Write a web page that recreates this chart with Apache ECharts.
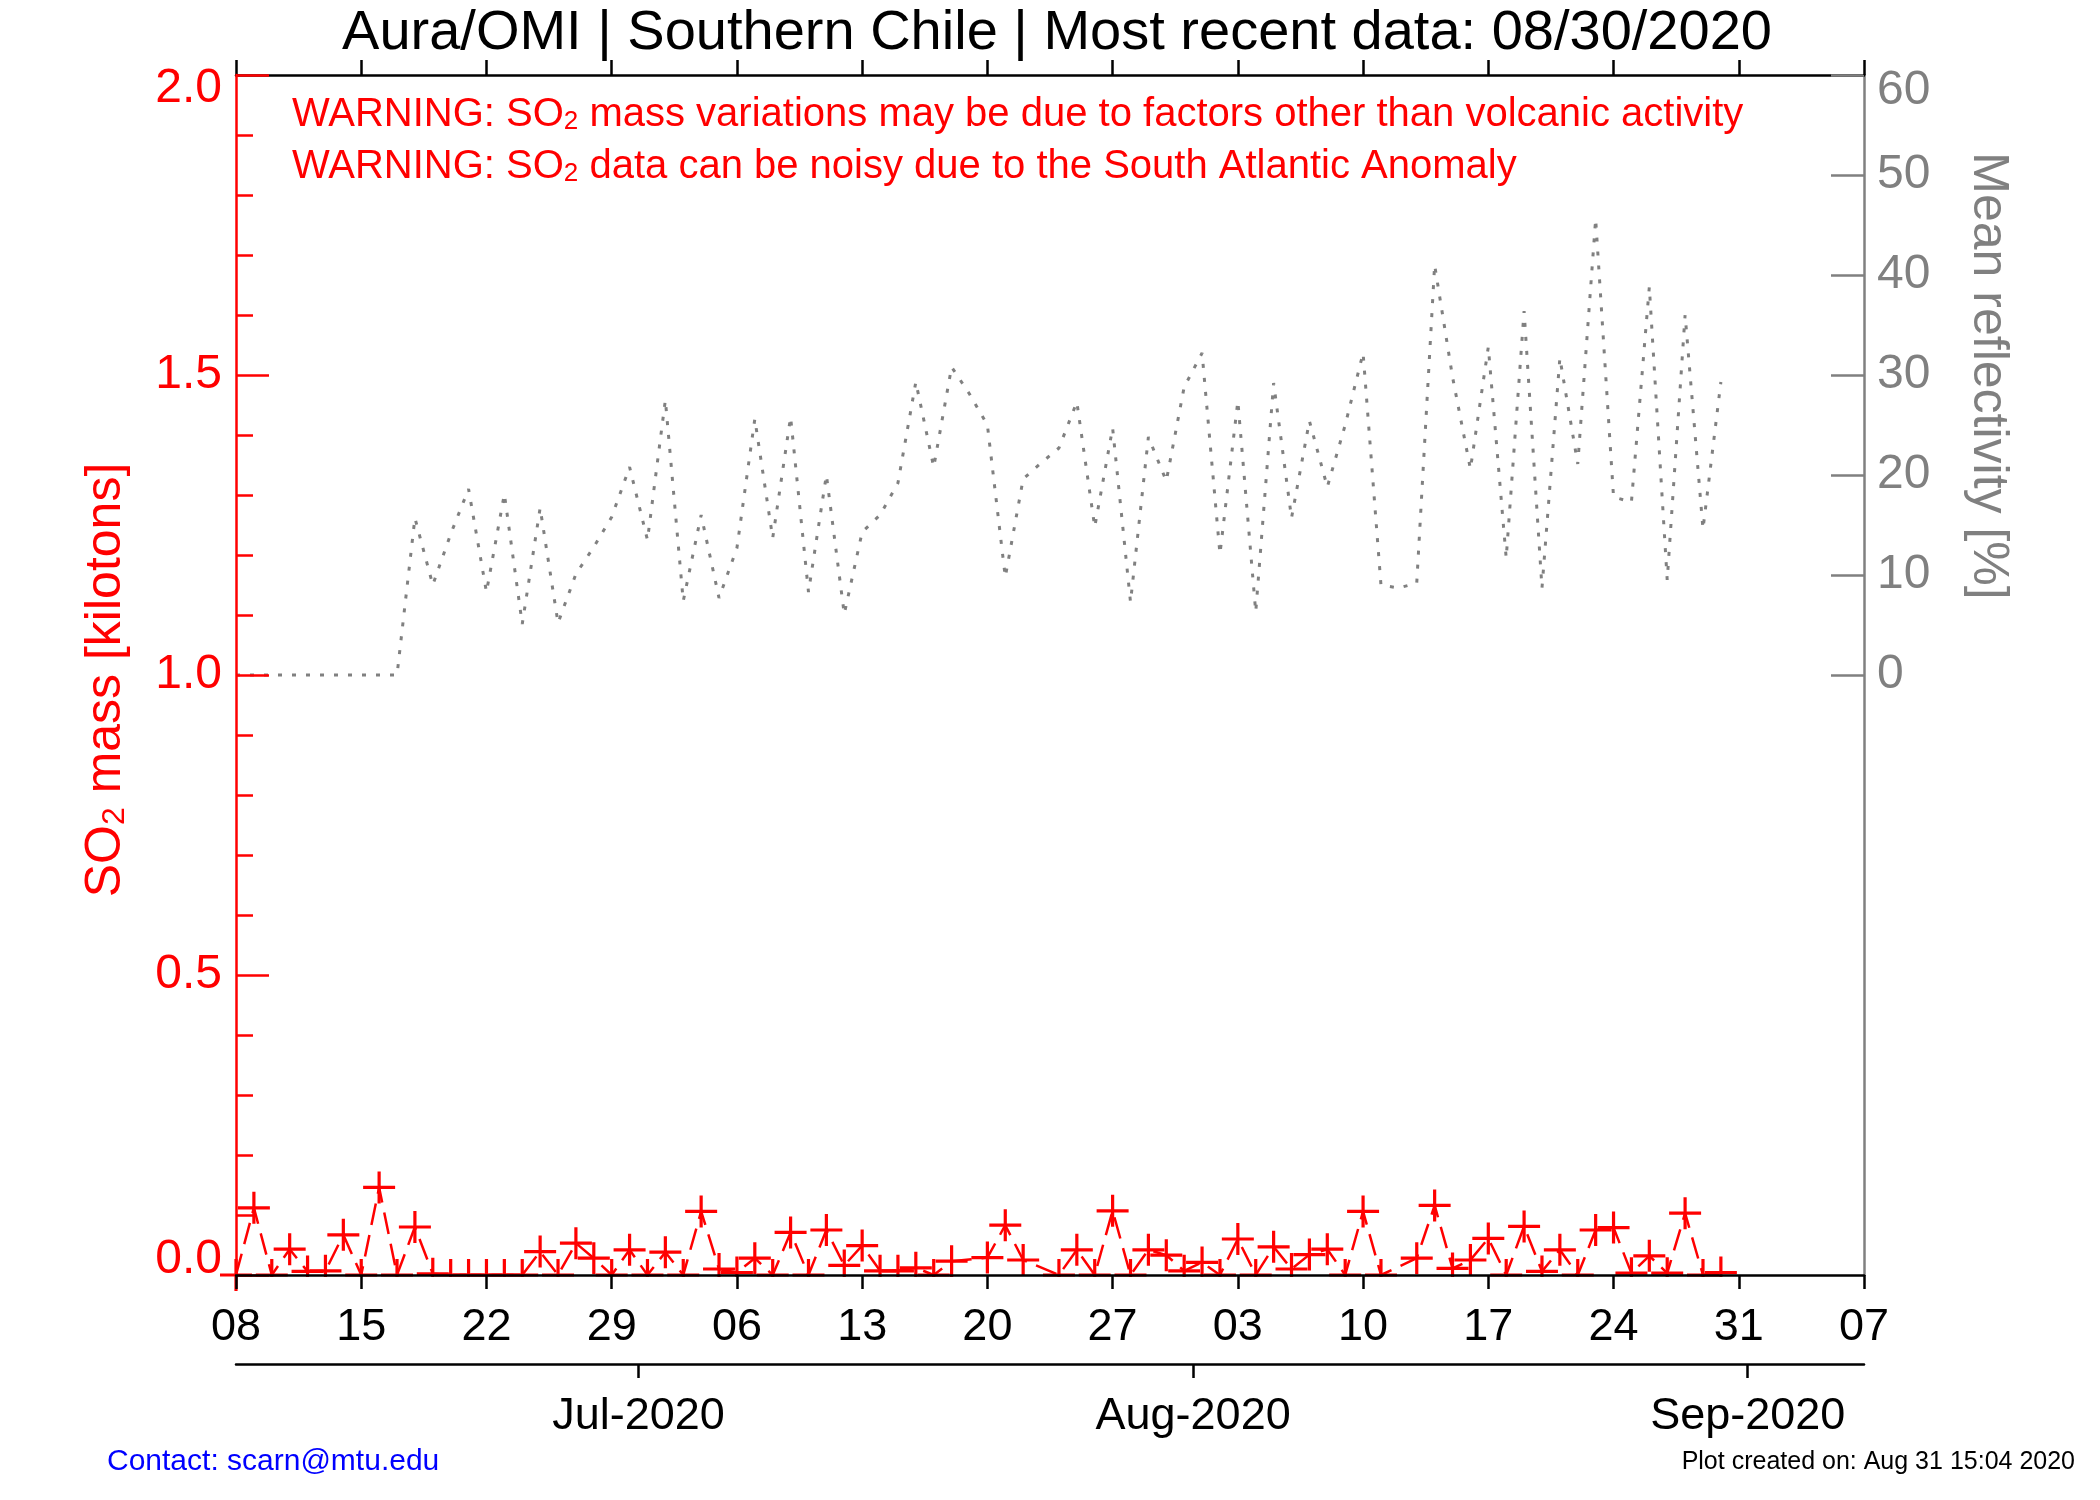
<!DOCTYPE html>
<html>
<head>
<meta charset="utf-8">
<script src="https://cdn.jsdelivr.net/npm/echarts@6/dist/echarts.min.js"></script>
<style>
  html, body { margin: 0; padding: 0; background: #fff; }
  #chart { width: 2100px; height: 1500px; }
</style>
</head>
<body>
<div id="chart"></div>
<script>
// days counted from 08 Jun 2020 (index 0) to 30 Aug 2020 (index 83)
const so2Mass = [
  0, 0.112, 0, 0.043, 0.006, 0.007, 0.067, 0, 0.146, 0,
  0.080, 0.002, 0, 0, 0, 0, 0, 0.039, 0, 0.053,
  0.028, 0, 0.042, 0, 0.038, 0, 0.106, 0.010, 0.004, 0.028,
  0, 0.071, 0, 0.075, 0.016, 0.049, 0.007, 0.007, 0.012, 0,
  0.023, null, 0.029, 0.083, 0.025, null, 0, 0.042, 0, 0.107,
  0, 0.042, 0.033, 0.007, 0.021, 0, 0.060, 0, 0.047, 0.010,
  0.034, 0.043, 0, 0.106, 0, null, 0.028, 0.116, 0.011, 0.025,
  0.061, 0, 0.081, 0.006, 0.042, 0, 0.075, 0.079, 0.003, 0.032,
  0.003, 0.103, 0, 0.004
]

const reflectivity = [
  0, 0, 0, 0, 0, 0, 0, 0, 0, 0,
  15.7, 9.0, 14.1, 18.6, 8.3, 18.1, 5.1, 16.7, 5.2, 10.1,
  12.8, 15.8, 20.8, 13.5, 27.5, 7.4, 16.0, 7.7, 12.7, 25.6,
  13.7, 25.8, 8.3, 20.0, 6.1, 14.3, 16.0, 19.2, 29.3, 20.8,
  30.8, 28.1, 25.0, 9.8, 19.6, 21.2, 22.7, 27.3, 14.8, 24.7,
  7.3, 23.8, 19.4, 28.8, 32.2, 12.1, 27.4, 6.3, 29.2, 15.7,
  25.4, 18.8, 25.0, 32.2, 9.0, 8.7, 9.2, 41.0, 29.8, 20.6,
  32.8, 11.7, 36.4, 8.7, 31.7, 21.1, 45.6, 17.8, 17.3, 38.8,
  9.5, 36.0, 14.6, 29.3
]

const dayLabels = ['08', '15', '22', '29', '06', '13', '20', '27', '03', '10', '17', '24', '31', '07']
const monthTicks = [22.5, 53.5, 84.5]
const monthLabels = ['Jul-2020', 'Aug-2020', 'Sep-2020']
const reflTicks = [0, 10, 20, 30, 40, 50, 60]

const FONT = 'Liberation Sans'
const RED = '#ff0000'
const GREY = '#808080'

const plusSymbol = 'path://M0,9H20V11H0Z M9,0H11V20H9Z'

const chart = echarts.init(document.getElementById('chart'))

const option = {
  backgroundColor: '#fff',
  animation: false,
  textStyle: { fontFamily: FONT },
  grid: { left: 236, right: 236, top: 75, bottom: 225 },
  xAxis: [
    {
      type: 'value', min: 0, max: 91, interval: 7, position: 'bottom', z: 5,
      axisLine: { onZero: false, lineStyle: { color: '#000', width: 2.5 } },
      axisTick: { length: 14, lineStyle: { color: '#000', width: 2.5 } },
      axisLabel: {
        color: '#000', fontSize: 45, fontFamily: FONT, margin: 30,
        formatter: (v) => dayLabels[Math.round(v / 7)]
      },
      splitLine: { show: false }
    },
    {
      type: 'value', min: 0, max: 91, position: 'bottom', offset: 89,
      axisLine: { onZero: false, lineStyle: { color: '#000', width: 2.5 } },
      axisTick: { length: 14, customValues: monthTicks, lineStyle: { color: '#000', width: 2.5 } },
      axisLabel: {
        color: '#000', fontSize: 45, fontFamily: FONT, margin: 30,
        customValues: monthTicks,
        formatter: (v) => monthLabels[monthTicks.indexOf(v)]
      },
      splitLine: { show: false }
    },
    {
      type: 'value', min: 0, max: 91, interval: 7, position: 'top',
      axisLine: { onZero: false, lineStyle: { color: '#000', width: 2.5 } },
      axisTick: { length: 15, lineStyle: { color: '#000', width: 2.5 } },
      axisLabel: { show: false },
      splitLine: { show: false }
    }
  ],
  yAxis: [
    {
      type: 'value', min: 0, max: 2, interval: 0.5, position: 'left', z: 4,
      axisLine: { show: true, onZero: false, lineStyle: { color: RED, width: 2.5 } },
      axisTick: { show: true, inside: true, length: 33, lineStyle: { color: RED, width: 2.5 } },
      minorTick: { show: true, splitNumber: 5, length: 17, lineStyle: { color: RED, width: 2.5 } },
      axisLabel: {
        color: RED, fontSize: 48, fontFamily: FONT, margin: 14,
        formatter: (v) => v === 2 ? '{t|2.0}' : (v === 0 ? '{b|0.0}' : v.toFixed(1)),
        rich: {
          t: { color: RED, fontSize: 48, fontFamily: FONT, padding: [28, 0, 0, 0] },
          b: { color: RED, fontSize: 48, fontFamily: FONT, padding: [0, 0, 30, 0] }
        }
      },
      splitLine: { show: false }
    },
    {
      type: 'value', min: -60, max: 60, interval: 10, position: 'right',
      axisLine: { show: true, onZero: false, lineStyle: { color: GREY, width: 2.5 } },
      axisTick: { show: true, inside: true, length: 33, customValues: reflTicks, lineStyle: { color: GREY, width: 2.5 } },
      axisLabel: {
        color: GREY, fontSize: 48, fontFamily: FONT, margin: 13,
        customValues: reflTicks,
        formatter: (v) => v === 60 ? '{t|60}' : String(v),
        rich: {
          t: { color: GREY, fontSize: 48, fontFamily: FONT, padding: [32, 0, 0, 0] }
        }
      },
      splitLine: { show: false }
    }
  ],
  series: [
    {
      name: 'Mean reflectivity',
      type: 'line',
      xAxisIndex: 0,
      yAxisIndex: 1,
      data: reflectivity.map((v, i) => [i, v]),
      showSymbol: false,
      symbol: 'none',
      lineStyle: { color: GREY, width: 3, type: [4, 10] },
      z: 2
    },
    {
      name: 'SO2 mass',
      type: 'line',
      xAxisIndex: 0,
      yAxisIndex: 0,
      data: so2Mass.map((v, i) => [i, v]),
      connectNulls: true,
      symbol: plusSymbol,
      symbolSize: 32,
      itemStyle: { color: RED },
      lineStyle: { color: RED, width: 2.5, type: [22, 10] },
      z: 3
    }
  ],
  graphic: [
    // hides the lower half of markers sitting on the x axis
    { type: 'rect', z: 4, shape: { x: 238, y: 1277, width: 1624, height: 20 }, style: { fill: '#fff' } },
    {
      type: 'text', x: 1057, y: 34,
      style: { text: 'Aura/OMI | Southern Chile | Most recent data: 08/30/2020', fill: '#000', font: '56px "Liberation Sans"', align: 'center', verticalAlign: 'middle' }
    },
    {
      type: 'text', x: 292, y: 110,
      style: {
        text: '{a|WARNING: SO}{s|2}{a| mass variations may be due to factors other than volcanic activity}',
        align: 'left', verticalAlign: 'middle',
        rich: {
          a: { fill: RED, fontSize: 40, fontFamily: FONT, lineHeight: 50, verticalAlign: 'bottom' },
          s: { fill: RED, fontSize: 26, fontFamily: FONT, lineHeight: 20, verticalAlign: 'bottom' }
        }
      }
    },
    {
      type: 'text', x: 292, y: 162,
      style: {
        text: '{a|WARNING: SO}{s|2}{a| data can be noisy due to the South Atlantic Anomaly}',
        align: 'left', verticalAlign: 'middle',
        rich: {
          a: { fill: RED, fontSize: 40, fontFamily: FONT, lineHeight: 50, verticalAlign: 'bottom' },
          s: { fill: RED, fontSize: 26, fontFamily: FONT, lineHeight: 20, verticalAlign: 'bottom' }
        }
      }
    },
    {
      type: 'text', x: 99, y: 680, rotation: Math.PI / 2,
      style: {
        text: '{a|SO}{s|2}{a| mass [kilotons]}',
        align: 'center', verticalAlign: 'middle',
        rich: {
          a: { fill: RED, fontSize: 50, fontFamily: FONT, lineHeight: 64, verticalAlign: 'bottom' },
          s: { fill: RED, fontSize: 32, fontFamily: FONT, lineHeight: 26, verticalAlign: 'bottom' }
        }
      }
    },
    {
      type: 'text', x: 1988, y: 376, rotation: -Math.PI / 2,
      style: { text: 'Mean reflectivity [%]', fill: GREY, font: '50px "Liberation Sans"', align: 'center', verticalAlign: 'middle' }
    },
    {
      type: 'text', x: 107, y: 1462,
      style: { text: 'Contact: scarn@mtu.edu', fill: '#0000ff', font: '30px "Liberation Sans"', align: 'left', verticalAlign: 'middle' }
    },
    {
      type: 'text', x: 2075, y: 1462,
      style: { text: 'Plot created on: Aug 31 15:04 2020', fill: '#000', font: '25px "Liberation Sans"', align: 'right', verticalAlign: 'middle' }
    }
  ]
}

chart.setOption(option)
</script>
</body>
</html>
